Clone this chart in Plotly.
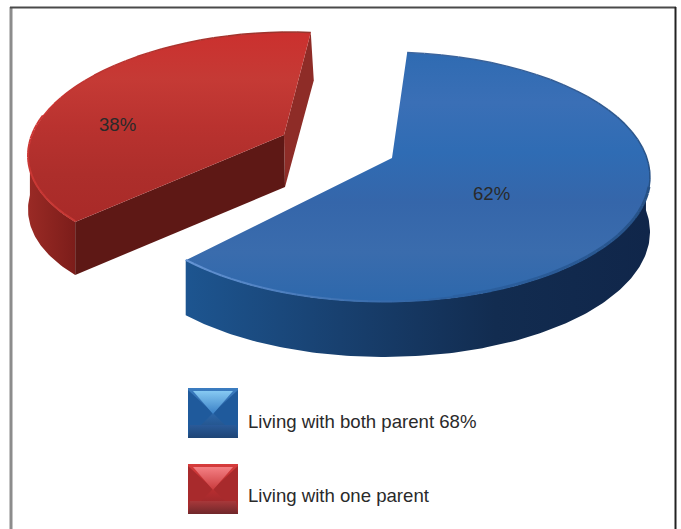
import numpy as np
import plotly.graph_objects as go

# Data
categories = ["Living with both parent", "Living with one parent"]
shares = [62, 38]
slice_labels = ["62%", "38%"]
legend_labels = ["Living with both parent 68%", "Living with one parent"]

W, H = 681, 529
START = 5
FONT = "Liberation Sans"
angles = np.cumsum([0] + shares) / sum(shares) * 360 + START


def rim(t, g):
    r = np.radians(t)
    x = g["cx"] + g["rx"] * np.sin(r) + g["k"] * np.cos(r)
    y = g["cy"] - g["ry"] * np.cos(r)
    return x, y


blue = dict(cx=384, cy=177, rx=266, ry=125, k=0, ax=392, ay=158, d=55)
red = dict(cx=268, cy=146, rx=239, ry=114, k=22, ax=284, ay=135, d=53)

fig = go.Figure()


def poly(x, y, name, colors=None, kind="vertical", solid=None):
    x = list(x) + [x[0]]
    y = list(y) + [y[0]]
    kw = dict(x=x, y=y, mode="lines", line=dict(width=0), fill="toself",
              hoverinfo="skip", name=name, showlegend=False)
    if solid:
        kw["fillcolor"] = solid
    else:
        n = len(colors) - 1
        kw["fillgradient"] = dict(type=kind, colorscale=[[i / n, c] for i, c in enumerate(colors)])
    fig.add_trace(go.Scatter(**kw))


def stroke(x, y, color, width, name):
    fig.add_trace(go.Scatter(x=x, y=y, mode="lines", line=dict(color=color, width=width),
                             hoverinfo="skip", name=name, showlegend=False))


def fade(ta, tb, g, c0, c1, width, name, lift=0.5, steps=24):
    """Rim highlight whose colour runs from c0 to c1 between two rim angles."""
    edges = np.linspace(ta, tb, steps + 1)
    for i in range(steps):
        f = i / (steps - 1)
        col = tuple(int(round(a + (b - a) * f)) for a, b in zip(c0, c1))
        x, y = rim(np.linspace(edges[i], edges[i + 1], 6), g)
        stroke(x, y - lift, "rgb(%d,%d,%d)" % col, width, name)


# Blue slice: both parents
t0, t1 = angles[0], angles[1]
ts = np.linspace(max(t0, 80), t1, 160)
x, y = rim(ts, blue)
poly(np.r_[x, x[::-1]], np.r_[y, y[::-1] + blue["d"]], categories[0],
     ["#1d5590", "#18406f", "#122c50", "#10264a"], "horizontal")
ts = np.linspace(t0, t1, 260)
x, y = rim(ts, blue)
poly(np.r_[blue["ax"], x], np.r_[blue["ay"], y], categories[0],
     ["#2f6bb2", "#3a6fb6", "#2f6cb4", "#3566aa", "#3a6cad", "#2d68ac"][::-1], "vertical")
fade(t0, 95, blue, (62, 102, 158), (38, 80, 132), 1.5, categories[0], lift=0)
fade(95, 165, blue, (38, 80, 132), (44, 96, 160), 3, categories[0], lift=1)
fade(165, t1, blue, (44, 96, 160), (100, 148, 212), 2, categories[0])

# Red slice: one parent
t1, t2 = angles[1], angles[2]
cx, cy = rim(np.array([t1, t2]), red)
d = red["d"]
# far cut face
poly([cx[1], cx[1] + 3, red["ax"] + 1, red["ax"]],
     [cy[1], cy[1] + 48, red["ay"] + 52, red["ay"]], categories[1], solid="#8e2c27")
# outer wall
ts = np.linspace(t1, 272, 50)
x, y = rim(ts, red)
poly(np.r_[x, x[::-1]], np.r_[y, y[::-1] + d], categories[1],
     ["#9a2a25", "#7c1d1a"], "horizontal")
# near cut face
poly([cx[0], red["ax"], red["ax"] + 1, cx[0]],
     [cy[0], red["ay"], red["ay"] + 52, cy[0] + d], categories[1], solid="#5e1815")
# top face
ts = np.linspace(t1, t2, 200)
x, y = rim(ts, red)
poly(np.r_[red["ax"], x], np.r_[red["ay"], y], categories[1],
     ["#cb302e", "#c53a35", "#b9322f", "#ad2e2b", "#a92a28"][::-1], "vertical")
fade(t1, 285, red, (200, 58, 54), (204, 52, 50), 2, categories[1], lift=1)
fade(285, t2, red, (204, 52, 50), (150, 52, 44), 1.5, categories[1], lift=0)

# Legend swatches
swatches = [
    (188, 388, ["#1e4678", "#2c66a8", "#3b7cc0"], ["#3a80c6", "#86c9f2"], ["#1e4576", "#2a5a98"], "#1f5a9c"),
    (188, 464, ["#8a2428", "#b82e30", "#d63c3c"], ["#c93a3c", "#f48084"], ["#70272a", "#a8383a"], "#a82a2c"),
]
S = 50
for i, (sx, sy, base, tri, bot, side) in enumerate(swatches):
    m = categories[i]
    poly([sx, sx + S, sx + S, sx], [sy, sy, sy + S, sy + S], m, base, "vertical")
    poly([sx + S, sx + S, sx + S / 2], [sy + 2, sy + S, sy + S / 2], m, solid=side)
    poly([sx, sx, sx + S / 2], [sy + 2, sy + S, sy + S / 2], m, solid=side)
    poly([sx + 5, sx + S - 5, sx + S / 2], [sy + 3, sy + 3, sy + 26], m, tri, "vertical")
    poly([sx + 2, sx + S - 2, sx + S, sx], [sy + S - 13, sy + S - 13, sy + S, sy + S], m, bot, "vertical")

ann = [
    dict(x=491, y=193, text=slice_labels[0]),
    dict(x=117, y=124, text=slice_labels[1]),
    dict(x=246, y=421, text=legend_labels[0], xanchor="left"),
    dict(x=246, y=495, text=legend_labels[1], xanchor="left"),
]
for a in ann:
    fig.add_annotation(xref="x", yref="y", showarrow=False,
                       font=dict(family=FONT, size=18.6, color="#2a2a2a"), **a)

# Frame: open at the bottom, as in the source image
for x0, y0, x1, y1, col, wd in [
    (11, 7, 11, 529, "#8c8c8c", 3),
    (10, 7.5, 676, 7.5, "#4a4a4a", 2),
    (675.5, 7, 675.5, 529, "#222222", 2),
]:
    fig.add_shape(type="line", xref="x", yref="y", x0=x0, y0=y0, x1=x1, y1=y1,
                  line=dict(color=col, width=wd), layer="below")

fig.update_layout(
    width=W, height=H, autosize=False, margin=dict(l=0, r=0, t=0, b=0),
    paper_bgcolor="white", plot_bgcolor="white", showlegend=False,
    xaxis=dict(range=[0, W], visible=False, fixedrange=True),
    yaxis=dict(range=[H, 0], visible=False, fixedrange=True),
)
fig.write_html("out.html", config=dict(displayModeBar=False),
               post_script="document.body.style.margin='0';document.body.style.overflow='hidden';")
